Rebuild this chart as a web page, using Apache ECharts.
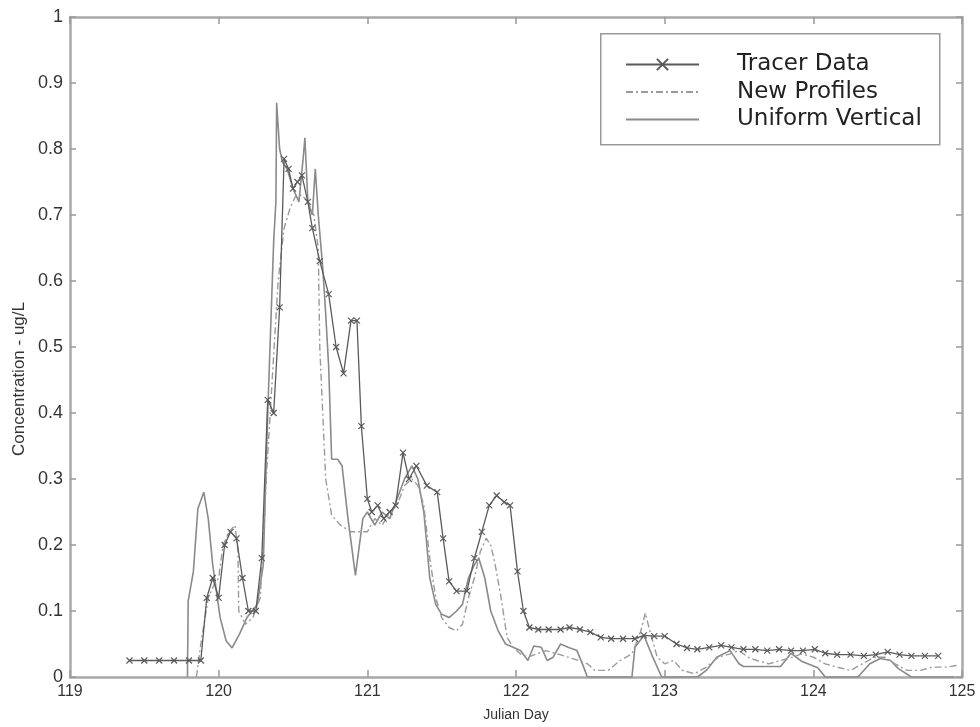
<!DOCTYPE html>
<html>
<head>
<meta charset="utf-8">
<script src="https://cdn.jsdelivr.net/npm/echarts@6/dist/echarts.min.js"></script>
<style>html,body{margin:0;padding:0;background:#fff}#c{width:980px;height:727px}</style>
</head>
<body>
<div id="c"></div>
<script>
const seriesNames = ['Tracer Data', 'New Profiles', 'Uniform Vertical'];
const xTicks = [119, 120, 121, 122, 123, 124, 125];
const yTicks = [0, 0.1, 0.2, 0.3, 0.4, 0.5, 0.6, 0.7, 0.8, 0.9, 1];

const tracerDays = [119.40,119.50,119.60,119.70,119.80,119.88,119.92,119.96,120.00,120.04,120.08,120.12,120.16,120.20,120.25,120.29,120.33,120.37,120.41,120.44,120.47,120.50,120.53,120.56,120.60,120.63,120.68,120.74,120.79,120.84,120.89,120.93,120.96,121.00,121.03,121.07,121.11,121.15,121.19,121.24,121.28,121.33,121.40,121.47,121.51,121.55,121.60,121.67,121.72,121.77,121.82,121.87,121.92,121.96,122.01,122.05,122.09,122.15,122.22,122.30,122.36,122.43,122.50,122.57,122.64,122.72,122.80,122.86,122.93,123.00,123.08,123.15,123.22,123.30,123.38,123.45,123.53,123.61,123.69,123.77,123.85,123.93,124.01,124.08,124.16,124.25,124.34,124.42,124.50,124.58,124.66,124.75,124.84];
const tracerVals = [0.025,0.025,0.025,0.025,0.025,0.025,0.12,0.15,0.12,0.20,0.22,0.21,0.15,0.10,0.10,0.18,0.42,0.40,0.56,0.785,0.77,0.74,0.75,0.76,0.72,0.68,0.63,0.58,0.50,0.46,0.54,0.54,0.38,0.27,0.25,0.26,0.24,0.25,0.26,0.34,0.30,0.32,0.29,0.28,0.21,0.145,0.13,0.13,0.18,0.22,0.26,0.275,0.265,0.26,0.16,0.10,0.075,0.072,0.072,0.072,0.075,0.072,0.068,0.06,0.058,0.058,0.058,0.063,0.062,0.062,0.05,0.044,0.042,0.045,0.048,0.045,0.042,0.042,0.040,0.042,0.040,0.040,0.042,0.036,0.034,0.034,0.032,0.034,0.038,0.034,0.032,0.032,0.032];

const newDays = [119.85,119.88,119.93,119.97,120.00,120.03,120.07,120.11,120.13,120.135,120.18,120.23,120.28,120.32,120.36,120.40,120.44,120.48,120.52,120.56,120.60,120.64,120.67,120.68,120.70,120.72,120.76,120.82,120.89,120.95,121.00,121.05,121.10,121.15,121.20,121.25,121.30,121.34,121.38,121.42,121.46,121.50,121.55,121.60,121.64,121.68,121.72,121.76,121.80,121.83,121.86,121.90,121.94,121.98,122.03,122.08,122.14,122.20,122.28,122.35,122.42,122.48,122.53,122.62,122.70,122.78,122.84,122.87,122.90,122.95,123.00,123.06,123.12,123.20,123.28,123.36,123.44,123.50,123.56,123.62,123.70,123.78,123.86,123.92,124.00,124.08,124.16,124.25,124.33,124.41,124.48,124.55,124.63,124.72,124.80,124.90,124.98];
const newVals = [0,0.05,0.12,0.14,0.15,0.20,0.22,0.23,0.19,0.10,0.08,0.09,0.12,0.30,0.45,0.60,0.68,0.71,0.73,0.73,0.72,0.70,0.65,0.50,0.40,0.30,0.245,0.23,0.22,0.22,0.22,0.24,0.23,0.25,0.26,0.29,0.30,0.29,0.26,0.18,0.12,0.09,0.075,0.07,0.08,0.12,0.15,0.19,0.21,0.20,0.17,0.12,0.06,0.045,0.035,0.03,0.035,0.04,0.035,0.03,0.025,0.02,0.01,0.01,0.025,0.035,0.07,0.097,0.07,0.03,0.02,0.025,0.01,0.005,0.015,0.03,0.035,0.04,0.03,0.025,0.02,0.025,0.03,0.035,0.03,0.02,0.015,0.01,0.02,0.03,0.03,0.02,0.01,0.01,0.015,0.015,0.018];

const uniDays = [119.79,119.795,119.83,119.86,119.90,119.93,119.96,120.01,120.05,120.09,120.14,120.19,120.26,120.30,120.33,120.37,120.385,120.39,120.41,120.43,120.46,120.50,120.54,120.57,120.58,120.60,120.63,120.65,120.67,120.70,120.72,120.74,120.76,120.80,120.83,120.87,120.92,120.97,121.00,121.05,121.10,121.15,121.20,121.25,121.30,121.34,121.38,121.42,121.46,121.50,121.55,121.60,121.64,121.68,121.72,121.75,121.79,121.83,121.88,121.93,121.98,122.03,122.08,122.12,122.17,122.21,122.25,122.30,122.35,122.41,122.45,122.48,122.78,122.80,122.86,122.92,122.98,123.22,123.28,123.35,123.44,123.50,123.53,123.78,123.85,123.92,124.03,124.08,124.30,124.38,124.45,124.52,124.57,124.66,124.95];
const uniVals = [0,0.115,0.16,0.255,0.28,0.24,0.17,0.09,0.055,0.044,0.065,0.09,0.11,0.17,0.40,0.66,0.72,0.87,0.80,0.78,0.77,0.74,0.72,0.79,0.817,0.72,0.70,0.77,0.70,0.62,0.55,0.47,0.33,0.33,0.32,0.24,0.154,0.24,0.25,0.23,0.25,0.24,0.27,0.30,0.32,0.30,0.25,0.15,0.11,0.095,0.09,0.10,0.11,0.15,0.17,0.18,0.15,0.10,0.07,0.05,0.045,0.04,0.025,0.047,0.045,0.025,0.03,0.05,0.045,0.04,0.018,0,0,0.045,0.063,0.03,0,0,0.01,0.03,0.04,0.02,0.016,0.016,0.036,0.024,0.014,0,0,0.02,0.028,0.025,0.013,0,0];

function zip(a, b) { return a.map((d, i) => [d, b[i]]); }

const chart = echarts.init(document.getElementById('c'), null, {renderer: 'canvas'});
const axisColor = '#a8a8a8';
const labelFont = 'Liberation Sans';
const grid = {left: 70, right: 18, top: 17, bottom: 48};

chart.setOption({
  animation: false,
  backgroundColor: '#fff',
  grid: grid,
  xAxis: [{
    type: 'value', min: xTicks[0], max: xTicks[xTicks.length - 1], interval: 1,
    name: 'Julian Day', nameLocation: 'middle', nameGap: 31,
    nameTextStyle: {fontFamily: labelFont, fontSize: 14, color: '#333'},
    axisLine: {show: true, onZero: false, lineStyle: {color: axisColor, width: 2.5}},
    axisTick: {show: true, inside: true, length: 7, lineStyle: {color: '#999', width: 1.5}},
    axisLabel: {fontFamily: labelFont, fontSize: 16, color: '#333', margin: 7},
    splitLine: {show: false}
  }, {
    type: 'value', position: 'top', min: xTicks[0], max: xTicks[xTicks.length - 1], interval: 1,
    axisLine: {show: true, onZero: false, lineStyle: {color: axisColor, width: 2.5}},
    axisTick: {show: true, inside: true, length: 7, lineStyle: {color: '#999', width: 1.5}},
    axisLabel: {show: false}, splitLine: {show: false}
  }],
  yAxis: [{
    type: 'value', min: 0, max: 1, interval: 0.1,
    axisLine: {show: true, onZero: false, lineStyle: {color: axisColor, width: 2.5}},
    axisTick: {show: true, inside: true, length: 6, lineStyle: {color: '#999', width: 1.5}},
    axisLabel: {fontFamily: labelFont, fontSize: 18, color: '#333', margin: 7,
      formatter: v => (Math.abs(v) < 1e-9 ? '0' : (Math.abs(v - 1) < 1e-9 ? '1' : String(+v.toFixed(1))))},
    splitLine: {show: false}
  }, {
    type: 'value', position: 'right', min: 0, max: 1, interval: 0.1,
    axisLine: {show: true, onZero: false, lineStyle: {color: axisColor, width: 2.5}},
    axisTick: {show: true, inside: true, length: 6, lineStyle: {color: '#999', width: 1.5}},
    axisLabel: {show: false}, splitLine: {show: false}
  }],
  legend: {
    orient: 'vertical', left: 620, top: 48,
    itemWidth: 73, itemHeight: 14, itemGap: 4.5,
    textStyle: {fontFamily: 'DejaVu Sans', fontSize: 23, color: '#222', lineHeight: 22, padding: [0, 0, 0, 33]},
    data: [
      {name: seriesNames[0]},
      {name: seriesNames[1], itemStyle: {opacity: 0}},
      {name: seriesNames[2], itemStyle: {opacity: 0}}
    ]
  },
  graphic: [{
    type: 'rect', left: 600, top: 33, z: 50,
    shape: {width: 339, height: 111},
    style: {fill: 'transparent', stroke: '#999', lineWidth: 1.5}
  }, {
    type: 'text', left: 11, top: 302, rotation: Math.PI / 2, z: 50,
    style: {text: 'Concentration - ug/L', font: '17px "Liberation Sans"', fill: '#333'}
  }],
  series: [{
    name: seriesNames[0], type: 'line', data: zip(tracerDays, tracerVals),
    symbol: 'path://M0,0L10,10M0,10L10,0', symbolSize: 6, showSymbol: true,
    lineStyle: {color: '#5a5a5a', width: 1.3},
    itemStyle: {color: 'transparent', borderColor: '#5a5a5a', borderWidth: 1.2},
    z: 3
  }, {
    name: seriesNames[1], type: 'line', data: zip(newDays, newVals),
    symbol: 'none', showSymbol: false,
    lineStyle: {color: '#9a9a9a', width: 1.4, type: [7, 3, 2, 3]},
    itemStyle: {color: '#9a9a9a'},
    z: 2
  }, {
    name: seriesNames[2], type: 'line', data: zip(uniDays, uniVals),
    symbol: 'none', showSymbol: false,
    lineStyle: {color: '#8a8a8a', width: 1.6},
    itemStyle: {color: '#8a8a8a'},
    z: 1
  }]
});
</script>
</body>
</html>
